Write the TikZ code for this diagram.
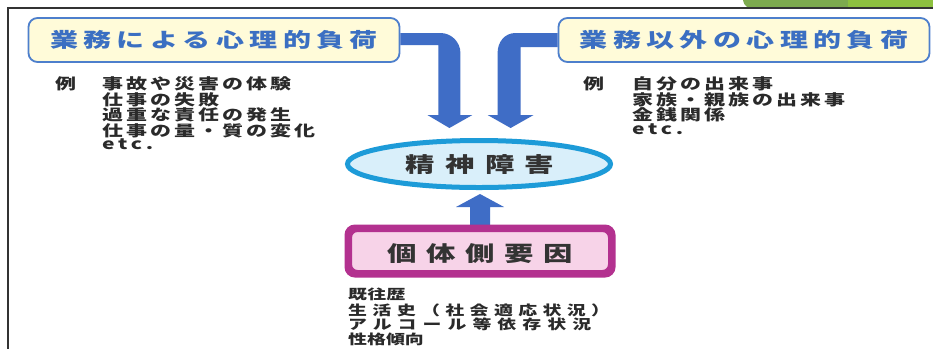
\documentclass[tikz,border=0pt]{standalone}
\usepackage{fontspec}
\usetikzlibrary{shapes.geometric}
\newfontfamily\jp[FakeStretch=1.4]{Noto Sans CJK JP}
\newcommand{\trk}[2]{{\addfontfeature{LetterSpace=#1}#2}}
\definecolor{framec}{HTML}{333333}
\definecolor{greenA}{HTML}{7DAA4E}
\definecolor{greenB}{HTML}{8DC03F}
\definecolor{ttlblue}{HTML}{3B6FC2}
\definecolor{boxborder}{HTML}{4D7FCC}
\definecolor{boxfill}{HTML}{FFFBD9}
\definecolor{arrowblue}{HTML}{3F6DC6}
\definecolor{ellborder}{HTML}{1D9BD8}
\definecolor{ellfill}{HTML}{D9EFFA}
\definecolor{magborder}{HTML}{B3318F}
\definecolor{magfill}{HTML}{F7D3E8}
\definecolor{txt}{HTML}{2A2A2A}
\tikzset{
  titlebox/.style={draw=boxborder, fill=boxfill, line width=1.8pt, rounded corners=9pt,
    inner sep=0pt, minimum width=371pt, minimum height=44pt, text=ttlblue,
    font=\jp\bfseries\fontsize{20}{24}\selectfont},
  lst/.style={inner sep=0pt, anchor=west, text=txt, font=\jp\bfseries\fontsize{15}{17}\selectfont},
  blst/.style={inner sep=0pt, anchor=west, text=txt, font=\jp\bfseries\fontsize{13.5}{15}\selectfont},
  bigarrow/.style={fill=arrowblue}
}
\begin{document}
\begin{tikzpicture}[x=1pt,y=-1pt]
\useasboundingbox (0,0) rectangle (933,349);
\fill[white] (0,0) rectangle (933,349);
% top band and frame
\fill[greenA] (743,0) .. controls (744,4) .. (747,7) -- (848,7) -- (848,0) -- cycle;
\fill[greenB] (848,0) rectangle (933,7);
\draw[framec, line width=2pt] (933,7.5) -- (7.5,7.5) -- (7.5,349);

% title boxes
\node[titlebox] (t1) at (214,40) {\trk{27}{業務による心理的負荷}};
\node[titlebox] (t2) at (744,40) {\trk{27}{業務以外の心理的負荷}};

% bent arrows
\begin{scope}[shift={(t1.east)}]
\fill[bigarrow] (0,-7) -- (40,-7) .. controls (51,-7) and (60,2) .. (60,13) -- (60,75)
  -- (72,75) -- (49,88) -- (27,75) -- (38,75) -- (38,5) -- (0,5) -- cycle;
\end{scope}
\begin{scope}[shift={(t2.west)}]
\fill[bigarrow] (0,-7) -- (-42,-7) .. controls (-53,-7) and (-60,2) .. (-60,13) -- (-60,75)
  -- (-70,75) -- (-47,88) -- (-24,75) -- (-37,75) -- (-37,7) -- (0,7) -- cycle;
\end{scope}

% ellipse
\node[ellipse, draw=ellborder, line width=5pt, fill=ellfill, inner sep=0pt,
  minimum width=263pt, minimum height=47pt] (e) at (479,164) {};
\node[inner sep=0pt, text=framec, font=\jp\bfseries\fontsize{21}{25}\selectfont]
  (et) at (480,165) {\trk{49}{精神障害}};

% individual factors box
\node[draw=magborder, line width=5pt, fill=magfill, rounded corners=8pt, inner sep=0pt,
  minimum width=261pt, minimum height=43pt] (b3) at (480,251) {};
\begin{scope}[shift={(b3.north)}]
\fill[bigarrow] (-10,1) -- (-10,-20) -- (-24,-20) -- (0,-33) -- (24,-20) -- (10,-20) -- (10,1) -- cycle;
\end{scope}
\draw[magborder, line width=5pt, rounded corners=8pt] (b3.north west) rectangle (b3.south east);
\node[inner sep=0pt, text=framec, font=\jp\bfseries\fontsize{21}{25}\selectfont]
  (bt) at (480,253.5) {\trk{46}{個体側要因}};

% left examples
\node[lst] (lr) at (55,83.5) {例};
\node[lst] (l1) at (102,83.5) {\trk{20}{事故や災害の体験}};
\node[lst] (l2) at (102,99.5) {\trk{20}{仕事の失敗}};
\node[lst] (l3) at (102,115) {\trk{20}{過重な責任の発生}};
\node[lst] (l4) at (102,130.5) {\trk{20}{仕事の量・質の変化}};
\node[lst] (l5) at (102,144.5) {\trk{25}{etc.}};

% right examples
\node[lst] (rr) at (583,84) {例};
\node[lst] (r1) at (632,84) {\trk{20}{自分の出来事}};
\node[lst] (r2) at (632,99.5) {\trk{20}{家族・親族の出来事}};
\node[lst] (r3) at (632,114.5) {\trk{20}{金銭関係}};
\node[lst] (r4) at (632,129) {\trk{25}{etc.}};

% bottom list
\node[blst] (b1) at (348,294.5) {\trk{2}{既往歴}};
\node[blst] (b2) at (348,310) {\trk{40}{生活史（社会適応状況）}};
\node[blst] (b4) at (348,324.5) {\trk{45}{アルコール等依存状況}};
\node[blst] (b5) at (348,339.5) {\trk{0}{性格傾向}};
\end{tikzpicture}
\end{document}
